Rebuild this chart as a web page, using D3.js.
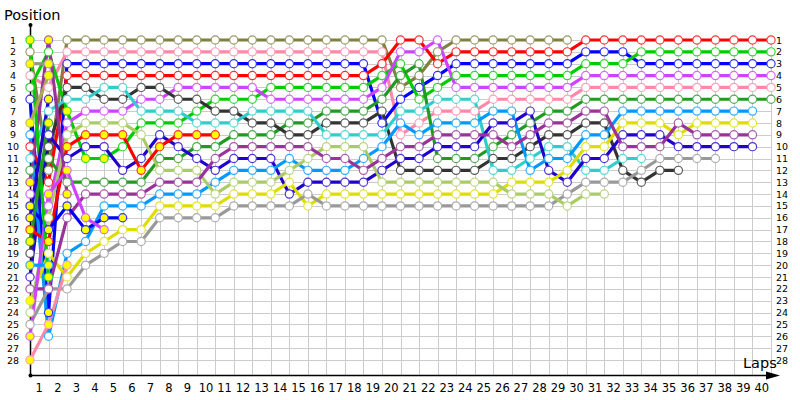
<!DOCTYPE html>
<html>
<head>
<meta charset="utf-8">
<script src="https://cdn.jsdelivr.net/npm/d3@7"></script>
<style>
  body { margin: 0; background: #fff; }
  text { font-family: "DejaVu Sans", Verdana, sans-serif; fill: #000; }
</style>
</head>
<body>
<div id="chart"></div>
<script>
//~~~~~~~~~~~~~~~~~~DATA
// position of each driver after every lap, index 0 = starting grid
let lapTicks = d3.range(1, 41);
let posTicks = d3.range(1, 29);

let olive      = [2,12,1,1,1,1,1,1,1,1, 1,1,1,1,1,1,1,1,1,1, 5,4,2,1,1,1,1,1,1,1];
let pink       = [4,5,2,2,2,2,2,2,2,2, 2,2,2,2,2,2,2,2,2,2, 9,8,7,7,7,6,6,6,6,6, 5,5,5,5,5,5,5,5,5,5,5];
let blue       = [6,24,3,3,3,3,3,3,3,3, 3,3,3,3,3,3,3,3,3,8, 6,5,4,3,3,3,3,3,3,3, 2,2,2,3,3,3,3,3,3,3,3];
let red        = [10,13,4,4,4,4,4,4,4,4, 4,4,4,4,4,4,4,4,4,3, 1,1,3,2,2,2,2,2,2,2, 1,1,1,1,1,1,1,1,1,1,1];
let green      = [5,2,7,11,11,10,8,8,8,7, 6,6,6,5,5,5,5,5,5,4, 3,6,5,4,4,4,4,4,4,4, 3,3,3,2,2,2,2,2,2,2,2];
let magenta    = [14,15,8,7,7,7,6,6,5,5, 5,5,5,6,6,6,6,6,6,5, 2,2,1,5,5,5,5,5,5,5, 4,4,4,4,4,4,4,4,4,4,4];
let darkGreen  = [12,11,13,13,13,13,13,11,11,10, 10,9,9,9,8,8,7,7,7,6, 4,3,11,11,11,10,9,8,7,7, 6,6,6,6,6,6,6,6,6,6,6];
let darkGrey   = [19,10,5,5,6,6,5,5,6,6, 7,7,8,8,9,9,8,8,8,7, 12,12,12,12,12,11,11,10,9,9, 8,8,12,13,12,12];
let cyan       = [11,7,6,6,5,5,7,7,7,8, 8,8,7,7,7,7,9,9,9,9, 7,7,6,6,6,12,12,11,10,10, 12,12,11,11];
let navy       = [21,9,11,10,10,12,11,9,10,11, 12,11,11,11,14,13,13,13,13,12, 11,11,10,10,10,8,8,7,12,13, 11,11,9,9,9,10,10,10,10,10];
let lightBlue  = [9,26,19,18,15,15,15,14,14,14, 13,12,12,12,11,12,12,12,11,10, 8,9,8,8,8,7,7,12,11,11, 9,9,7,7,7,7,7,7,7,7];
let yellow     = [23,19,21,19,18,17,17,15,15,15, 15,14,14,14,13,15,14,14,14,14, 14,14,14,14,14,14,13,13,13,12, 10,10,8,8,8,9,8,8,8,8];
let grey       = [25,22,22,20,19,18,18,16,16,16, 16,15,15,15,15,14,15,15,15,15, 15,15,15,15,15,15,15,15,15,14, 13,13,13,12,11,11,11,11];
let lightGreen = [24,16,9,8,8,8,9,12,12,12, 14,13,13,13,12,11,10,10,10,13, 13,13,13,13,13,13,14,14,14,15, 14,14];
let purple     = [22,22,16,14,14,14,14,13,13,13, 11,10,10,10,10,10,11,11,12,11, 10,10,9,9,9,9,10,9,8,8, 7,7,10,10,10,8,9,9,9,9];
let redPit     = [17,18,10,9,9,9,12,10,9,9,9];
let bluePit    = [15,17,15,17,16,16];
let magentaPit = [26,14,12,16,17];
let pinkPit    = [28,25,20];
let purplePit  = [13,1,14];
let greenPitA  = [1,21];
let oliveGrid  = [3,3];
let olivePit   = [8,4];
let navyPit    = [16,6];
let greenPitB  = [18,8];
let blueLight2 = [20,20];

// laps drawn with a yellow marker
let greenYellow  = [2,3,4];
let blueYellow   = [1];
let yellowYellow = [0];
let allYellow    = d3.range(0, 41);

//~~~~~~~~~~~~~~~~~~SERIES (data + style)
let series = [
  { pos: olive,      color: '#808040' },
  { pos: pink,       color: '#ff88aa' },
  { pos: blue,       color: '#0000ff', yellow: blueYellow },
  { pos: red,        color: '#ff0000' },
  { pos: green,      color: '#00cc00', yellow: greenYellow },
  { pos: magenta,    color: '#cc44ff' },
  { pos: darkGreen,  color: '#229922' },
  { pos: darkGrey,   color: '#333333' },
  { pos: cyan,       color: '#33cccc' },
  { pos: navy,       color: '#2200cc' },
  { pos: lightBlue,  color: '#0099ff' },
  { pos: yellow,     color: '#dddd00', yellow: yellowYellow },
  { pos: grey,       color: '#999999' },
  { pos: lightGreen, color: '#aacc66' },
  { pos: purple,     color: '#993399' },
  { pos: redPit,     color: '#ff0000', yellow: allYellow },
  { pos: bluePit,    color: '#0000ff', yellow: allYellow },
  { pos: magentaPit, color: '#cc44ff', yellow: allYellow },
  { pos: pinkPit,    color: '#ff88aa', yellow: allYellow },
  { pos: purplePit,  color: '#993399', yellow: allYellow },
  { pos: greenPitA,  color: '#00cc00', yellow: allYellow },
  { pos: oliveGrid,  color: '#999977', yellow: allYellow },
  { pos: olivePit,   color: '#aaaa55', yellow: allYellow },
  { pos: navyPit,    color: '#2200cc', yellow: allYellow },
  { pos: greenPitB,  color: '#229922', yellow: allYellow },
  { pos: blueLight2, color: '#0099ff', yellow: allYellow }
];

//~~~~~~~~~~~~~~~~~~VARIABLES
let width = 800;
let height = 400;
let axisY = 375;

let x = d3.scaleLinear().domain([0, 40]).range([30, 771]);
let y = d3.scaleLinear().domain([1, 28]).range([40, 360]);
//lap labels sit in the middle of each lap interval
let lapBand = d3.scaleBand().domain(lapTicks).range([30, 771]);

let svg = d3.select('#chart')
  .append('svg')
  .attr('width', width)
  .attr('height', height);

//~~~~~~~~~~~~~~~~~~GRID
let grid = svg.append('g').attr('stroke', '#cccccc').attr('stroke-width', 1);

grid.selectAll('.hline')
  .data(posTicks)
  .enter()
  .append('line')
  .attr('x1', x(0))
  .attr('x2', x(40))
  .attr('y1', d => Math.round(y(d)) + 0.5)
  .attr('y2', d => Math.round(y(d)) + 0.5);

grid.selectAll('.vline')
  .data(lapTicks)
  .enter()
  .append('line')
  .attr('x1', d => Math.round(x(d)) + 0.5)
  .attr('x2', d => Math.round(x(d)) + 0.5)
  .attr('y1', y(1))
  .attr('y2', axisY);

//~~~~~~~~~~~~~~~~~~AXES
let left = svg.append('g')
  .attr('transform', 'translate(13,0)')
  .call(d3.axisLeft(y).tickValues(posTicks).tickSize(0).tickPadding(0));
left.select('.domain').remove();
left.selectAll('text').attr('text-anchor', 'middle').attr('x', 0)
  .style('font-family', '"DejaVu Sans", sans-serif').style('font-size', '9.5px');

let right = svg.append('g')
  .attr('transform', 'translate(776,0)')
  .call(d3.axisRight(y).tickValues(posTicks).tickSize(0).tickPadding(0));
right.select('.domain').remove();
right.selectAll('text')
  .style('font-family', '"DejaVu Sans", sans-serif').style('font-size', '9.5px');

let bottom = svg.append('g')
  .attr('transform', 'translate(0,' + axisY + ')')
  .call(d3.axisBottom(lapBand).tickSize(0).tickPadding(9));
bottom.select('.domain').remove();
bottom.selectAll('text')
  .style('font-family', '"DejaVu Sans", sans-serif').style('font-size', '11.5px');

//axis lines with arrow ends
svg.append('line')
  .attr('x1', 30.5).attr('x2', 30.5).attr('y1', 25).attr('y2', axisY)
  .attr('stroke', '#000').attr('stroke-width', 1.5);
svg.append('line')
  .attr('x1', 30).attr('x2', 772).attr('y1', axisY + 0.5).attr('y2', axisY + 0.5)
  .attr('stroke', '#000').attr('stroke-width', 1.5);
svg.append('path')
  .attr('d', 'M766,371.5 L780,375.5 L766,379.5 Z')
  .attr('fill', '#000');
svg.append('circle').attr('cx', 30.5).attr('cy', 25).attr('r', 2).attr('fill', '#000');
svg.append('circle').attr('cx', 30.5).attr('cy', axisY + 0.5).attr('r', 2).attr('fill', '#000');

svg.append('text')
  .attr('x', 4).attr('y', 20)
  .style('font-size', '14.5px')
  .text('Position');

svg.append('text')
  .attr('x', 743).attr('y', 368)
  .style('font-size', '14.5px')
  .text('Laps');

//~~~~~~~~~~~~~~~~~~LINES AND MARKERS
let line = d3.line()
  .x(d => x(d.lap))
  .y(d => y(d.pos));

series.forEach(function(s) {
  s.points = s.pos.map((p, i) => ({ lap: i, pos: p }));
  s.marker = d3.interpolateRgb(s.color, '#ffffff')(0.2);
});

svg.append('g')
  .selectAll('path')
  .data(series)
  .enter()
  .append('path')
  .attr('d', d => line(d.points))
  .attr('fill', 'none')
  .attr('stroke', d => d.color)
  .attr('stroke-width', 3.2)
  .attr('stroke-linejoin', 'round');

let dots = svg.append('g')
  .selectAll('g')
  .data(series)
  .enter()
  .append('g');

dots.selectAll('circle')
  .data(d => d.points.map(p => ({ p: p, s: d })))
  .enter()
  .append('circle')
  .attr('cx', d => x(d.p.lap))
  .attr('cy', d => y(d.p.pos))
  .attr('r', 4.1)
  .attr('fill', d => (d.s.yellow && d.s.yellow.indexOf(d.p.lap) >= 0) ? '#ffff00' : '#ffffff')
  .attr('stroke', d => d.s.marker)
  .attr('stroke-width', 1.2);
</script>
</body>
</html>
